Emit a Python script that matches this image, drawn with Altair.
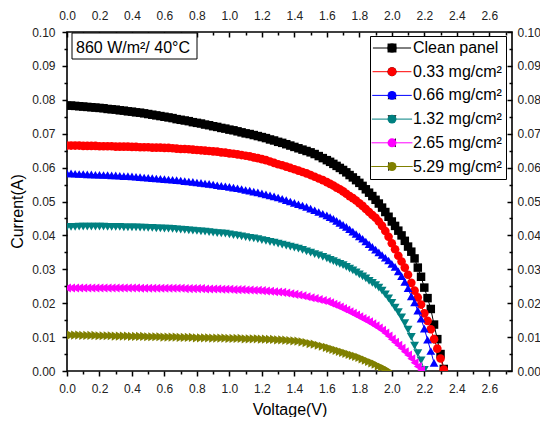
import altair as alt
import pandas as pd

FONT = "Liberation Sans, Arial, sans-serif"

series_names = ["Clean panel", "0.33 mg/cm²", "0.66 mg/cm²", "1.32 mg/cm²", "2.65 mg/cm²", "5.29 mg/cm²"]
series_colors = ["#000000", "#FF0000", "#0000FF", "#008080", "#FF00FF", "#808000"]
series_shapes = ["square", "circle", "triangle-up", "triangle-down", "triangle-left", "triangle-right"]
series_sizes = [72, 85, 110, 110, 110, 110]

voltage = [0.000, 0.025, 0.050, 0.075, 0.100, 0.125, 0.150, 0.175,
           0.200, 0.225, 0.250, 0.275, 0.300, 0.325, 0.350, 0.375,
           0.400, 0.425, 0.450, 0.475, 0.500, 0.525, 0.550, 0.575,
           0.600, 0.625, 0.650, 0.675, 0.700, 0.725, 0.750, 0.775,
           0.800, 0.825, 0.850, 0.875, 0.900, 0.925, 0.950, 0.975,
           1.000, 1.025, 1.050, 1.075, 1.100, 1.125, 1.150, 1.175,
           1.200, 1.225, 1.250, 1.275, 1.300, 1.325, 1.350, 1.375,
           1.400, 1.425, 1.450, 1.475, 1.500, 1.525, 1.550, 1.575,
           1.60, 1.62, 1.64, 1.66, 1.68, 1.70, 1.72, 1.74, 1.76, 1.78,
           1.80, 1.82, 1.84, 1.86, 1.88, 1.90, 1.92, 1.94, 1.96, 1.98,
           2.00, 2.02, 2.04, 2.06, 2.08, 2.10, 2.12, 2.14, 2.16, 2.18,
           2.20, 2.22, 2.24, 2.26, 2.28, 2.30, 2.32]

current_clean = [0.0783, 0.0783, 0.0782, 0.0781, 0.0780, 0.0779, 0.0778, 0.0777,
                 0.0776, 0.0775, 0.0773, 0.0772, 0.0771, 0.0769, 0.0768, 0.0766,
                 0.0765, 0.0763, 0.0762, 0.0760, 0.0758, 0.0756, 0.0754, 0.0752,
                 0.0750, 0.0748, 0.0746, 0.0743, 0.0741, 0.0739, 0.0737, 0.0734,
                 0.0732, 0.0730, 0.0727, 0.0725, 0.0722, 0.0720, 0.0717, 0.0715,
                 0.0712, 0.0710, 0.0707, 0.0704, 0.0701, 0.0699, 0.0696, 0.0693,
                 0.0690, 0.0687, 0.0683, 0.0680, 0.0676, 0.0673, 0.0669, 0.0665,
                 0.0661, 0.0657, 0.0653, 0.0649, 0.0645, 0.0640, 0.0634, 0.0628,
                 0.0622, 0.0617, 0.0611, 0.0605, 0.0599, 0.0593, 0.0586, 0.0578, 0.0571, 0.0563,
                 0.0555, 0.0546, 0.0536, 0.0526, 0.0516, 0.0505, 0.0494, 0.0482, 0.0469, 0.0455,
                 0.0441, 0.0428, 0.0414, 0.0400, 0.0384, 0.0367, 0.0352, 0.0332, 0.0305, 0.0278,
                 0.0246, 0.0215, 0.0183, 0.0137, 0.0094, 0.0050, 0.0006]
current_033 = [0.0665, 0.0665, 0.0665, 0.0665, 0.0664, 0.0664, 0.0664, 0.0664,
               0.0663, 0.0663, 0.0663, 0.0663, 0.0662, 0.0662, 0.0662, 0.0662,
               0.0661, 0.0661, 0.0660, 0.0660, 0.0660, 0.0659, 0.0659, 0.0659,
               0.0658, 0.0658, 0.0657, 0.0656, 0.0655, 0.0655, 0.0654, 0.0653,
               0.0652, 0.0651, 0.0650, 0.0649, 0.0648, 0.0647, 0.0645, 0.0644,
               0.0642, 0.0641, 0.0639, 0.0637, 0.0635, 0.0633, 0.0630, 0.0628,
               0.0625, 0.0622, 0.0618, 0.0614, 0.0610, 0.0607, 0.0603, 0.0599,
               0.0595, 0.0591, 0.0587, 0.0583, 0.0578, 0.0573, 0.0568, 0.0563,
               0.0557, 0.0552, 0.0547, 0.0541, 0.0536, 0.0530, 0.0523, 0.0516, 0.0510, 0.0503,
               0.0495, 0.0487, 0.0478, 0.0469, 0.0460, 0.0452, 0.0441, 0.0428, 0.0413, 0.0396,
               0.0377, 0.0359, 0.0340, 0.0323, 0.0305, 0.0284, 0.0260, 0.0237, 0.0217, 0.0196,
               0.0170, 0.0148, 0.0123, 0.0094, 0.0066, 0.0037, 0.0004]
current_066 = [0.0583, 0.0583, 0.0582, 0.0581, 0.0581, 0.0580, 0.0580, 0.0579,
               0.0579, 0.0578, 0.0578, 0.0577, 0.0577, 0.0576, 0.0575, 0.0575,
               0.0574, 0.0573, 0.0572, 0.0571, 0.0570, 0.0569, 0.0568, 0.0567,
               0.0566, 0.0565, 0.0564, 0.0563, 0.0562, 0.0560, 0.0559, 0.0558,
               0.0556, 0.0555, 0.0553, 0.0552, 0.0550, 0.0548, 0.0546, 0.0545,
               0.0543, 0.0541, 0.0539, 0.0537, 0.0534, 0.0532, 0.0529, 0.0527,
               0.0524, 0.0521, 0.0518, 0.0515, 0.0512, 0.0508, 0.0504, 0.0500,
               0.0496, 0.0492, 0.0488, 0.0484, 0.0479, 0.0474, 0.0469, 0.0464,
               0.0459, 0.0454, 0.0449, 0.0443, 0.0437, 0.0431, 0.0425, 0.0418, 0.0411, 0.0404,
               0.0397, 0.0390, 0.0382, 0.0374, 0.0366, 0.0358, 0.0350, 0.0342, 0.0334, 0.0326,
               0.0316, 0.0307, 0.0294, 0.0280, 0.0263, 0.0244, 0.0220, 0.0202, 0.0178, 0.0154,
               0.0125, 0.0092, 0.0059, 0.0024]
current_132 = [0.0425, 0.0425, 0.0425, 0.0426, 0.0426, 0.0426, 0.0426, 0.0426,
               0.0426, 0.0426, 0.0425, 0.0425, 0.0425, 0.0425, 0.0424, 0.0424,
               0.0424, 0.0424, 0.0423, 0.0423, 0.0422, 0.0422, 0.0421, 0.0421,
               0.0420, 0.0420, 0.0419, 0.0418, 0.0417, 0.0416, 0.0415, 0.0414,
               0.0413, 0.0412, 0.0411, 0.0410, 0.0408, 0.0407, 0.0406, 0.0405,
               0.0403, 0.0401, 0.0399, 0.0397, 0.0395, 0.0393, 0.0391, 0.0389,
               0.0386, 0.0384, 0.0381, 0.0379, 0.0376, 0.0373, 0.0370, 0.0367,
               0.0364, 0.0361, 0.0357, 0.0353, 0.0349, 0.0345, 0.0341, 0.0337,
               0.0332, 0.0328, 0.0324, 0.0320, 0.0316, 0.0312, 0.0307, 0.0302, 0.0297, 0.0291,
               0.0285, 0.0279, 0.0273, 0.0266, 0.0260, 0.0253, 0.0246, 0.0237, 0.0226, 0.0214,
               0.0201, 0.0187, 0.0174, 0.0158, 0.0141, 0.0122, 0.0101, 0.0075, 0.0053, 0.0031,
               0.0003]
current_265 = [0.0245, 0.0245, 0.0245, 0.0245, 0.0245, 0.0245, 0.0245, 0.0245,
               0.0245, 0.0245, 0.0245, 0.0245, 0.0245, 0.0245, 0.0245, 0.0245,
               0.0245, 0.0245, 0.0244, 0.0244, 0.0244, 0.0244, 0.0244, 0.0244,
               0.0244, 0.0244, 0.0244, 0.0244, 0.0244, 0.0243, 0.0243, 0.0243,
               0.0243, 0.0243, 0.0242, 0.0242, 0.0242, 0.0242, 0.0241, 0.0241,
               0.0241, 0.0240, 0.0240, 0.0240, 0.0239, 0.0239, 0.0238, 0.0238,
               0.0237, 0.0236, 0.0235, 0.0234, 0.0233, 0.0232, 0.0230, 0.0228,
               0.0226, 0.0224, 0.0222, 0.0219, 0.0216, 0.0214, 0.0211, 0.0208,
               0.0205, 0.0201, 0.0197, 0.0193, 0.0189, 0.0184, 0.0180, 0.0175, 0.0170, 0.0165,
               0.0160, 0.0155, 0.0150, 0.0145, 0.0139, 0.0133, 0.0127, 0.0120, 0.0112, 0.0103,
               0.0094, 0.0085, 0.0076, 0.0067, 0.0057, 0.0047, 0.0036, 0.0024, 0.0013, 0.0003]
current_529 = [0.0106, 0.0106, 0.0106, 0.0106, 0.0105, 0.0105, 0.0105, 0.0105,
               0.0104, 0.0104, 0.0104, 0.0104, 0.0103, 0.0103, 0.0103, 0.0103,
               0.0102, 0.0102, 0.0102, 0.0102, 0.0101, 0.0101, 0.0101, 0.0101,
               0.0100, 0.0100, 0.0100, 0.0100, 0.0099, 0.0099, 0.0099, 0.0099,
               0.0098, 0.0098, 0.0098, 0.0098, 0.0097, 0.0097, 0.0097, 0.0097,
               0.0096, 0.0096, 0.0096, 0.0096, 0.0095, 0.0095, 0.0095, 0.0095,
               0.0094, 0.0094, 0.0093, 0.0093, 0.0092, 0.0092, 0.0091, 0.0090,
               0.0089, 0.0088, 0.0086, 0.0084, 0.0081, 0.0079, 0.0076, 0.0073,
               0.0070, 0.0067, 0.0064, 0.0061, 0.0058, 0.0055, 0.0052, 0.0049, 0.0046, 0.0043,
               0.0040, 0.0036, 0.0032, 0.0028, 0.0024, 0.0020, 0.0015, 0.0011, 0.0006, 0.0001]

currents = [current_clean, current_033, current_066, current_132, current_265, current_529]

annotation = "860 W/m²/ 40°C"
x_major = [0.0, 0.2, 0.4, 0.6, 0.8, 1.0, 1.2, 1.4, 1.6, 1.8, 2.0, 2.2, 2.4, 2.6]
x_minor = [0.1, 0.3, 0.5, 0.7, 0.9, 1.1, 1.3, 1.5, 1.7, 1.9, 2.1, 2.3, 2.5, 2.7]
y_major = [0.00, 0.01, 0.02, 0.03, 0.04, 0.05, 0.06, 0.07, 0.08, 0.09, 0.10]
y_minor = [0.005, 0.015, 0.025, 0.035, 0.045, 0.055, 0.065, 0.075, 0.085, 0.095]

rows = []
for name, cur in zip(series_names, currents):
    for v, i in zip(voltage, cur):
        rows.append({"series": name, "V": v, "I": i})
df = pd.DataFrame(rows)

W, H = 445, 339
xs = alt.Scale(domain=[0, 2.74], nice=False, zero=False)
ys = alt.Scale(domain=[0, 0.1], nice=False)

common = dict(grid=False, domain=False, tickColor="black", tickWidth=1.5,
              labelFont=FONT, labelFontSize=12, labelColor="#222222", labelFlush=False,
              labelOverlap=False, labelBound=False)

# legend A: coloured line segments with visible labels (box)
legA = alt.Legend(title=None, orient="none", legendX=303, legendY=4, padding=4,
                  symbolType="M-4.5,0H4.5", symbolSize=64, symbolStrokeWidth=1,
                  symbolOffset=10, labelOffset=13,
                  labelFont=FONT, labelFontSize=16, labelColor="black",
                  labelLimit=300, rowPadding=7.7, strokeColor="black", fillColor="white")
# legend B: the markers, drawn over the middle of the line segments
legB = alt.Legend(title=None, orient="none", legendX=303, legendY=4, padding=4,
                  symbolSize=80, symbolStrokeWidth=0, symbolOffset=10, labelOffset=13,
                  labelFont=FONT, labelFontSize=16, labelOpacity=0,
                  labelLimit=300, rowPadding=7.7)

lines = alt.Chart(df).mark_line(strokeWidth=1, clip=True).encode(
    x=alt.X("V:Q", scale=xs, axis=alt.Axis(
        orient="bottom", values=x_major, format=".1f", tickSize=5, labelPadding=7,
        title="Voltage(V)", titleFont=FONT, titleFontSize=16, titleFontWeight="normal",
        titleColor="black", titleY=43, titleBaseline="alphabetic", **common)),
    y=alt.Y("I:Q", scale=ys, axis=alt.Axis(
        orient="left", values=y_major, format=".2f", tickSize=5, labelPadding=7,
        title="Current(A)", titleFont=FONT, titleFontSize=16, titleFontWeight="normal",
        titleColor="black", titleAngle=270, titleX=-45, titleY=179,
        titleBaseline="alphabetic", titleAlign="center", **common)),
    stroke=alt.Stroke("series:N", scale=alt.Scale(domain=series_names, range=series_colors), legend=legA),
)

points = alt.Chart(df).mark_point(filled=True, opacity=1, clip=True).encode(
    x=alt.X("V:Q", scale=xs, axis=alt.Axis(orient="bottom", values=x_minor, labels=False,
                                           tickSize=3, title=None, **common)),
    y=alt.Y("I:Q", scale=ys, axis=alt.Axis(orient="left", values=y_minor, labels=False,
                                           tickSize=3, title=None, **common)),
    fill=alt.Fill("series:N", sort=series_names, scale=alt.Scale(range=series_colors), legend=legB),
    shape=alt.Shape("series:N", sort=series_names, scale=alt.Scale(range=series_shapes), legend=legB),
    size=alt.Size("series:N", scale=alt.Scale(domain=series_names, range=series_sizes), legend=None),
)

top_right_labels = alt.Chart(df).mark_point(opacity=0).encode(
    x=alt.X("V:Q", scale=xs, axis=alt.Axis(orient="top", values=x_major, format=".1f", ticks=False,
                                           tickSize=0, labelPadding=10, title=None, **common)),
    y=alt.Y("I:Q", scale=ys, axis=alt.Axis(orient="right", values=y_major, format=".2f", ticks=False,
                                           tickSize=0, labelPadding=5, title=None, **common)),
)

inner_major = alt.Chart(df).mark_point(opacity=0).encode(
    x=alt.X("V:Q", scale=xs, axis=alt.Axis(orient="bottom", offset=-H, values=x_major, labels=False,
                                           tickSize=5, title=None, **common)),
    y=alt.Y("I:Q", scale=ys, axis=alt.Axis(orient="left", offset=-W, values=y_major, labels=False,
                                           tickSize=5, title=None, **common)),
)

inner_minor = alt.Chart(df).mark_point(opacity=0).encode(
    x=alt.X("V:Q", scale=xs, axis=alt.Axis(orient="bottom", offset=-H, values=x_minor, labels=False,
                                           tickSize=3, title=None, **common)),
    y=alt.Y("I:Q", scale=ys, axis=alt.Axis(orient="left", offset=-W, values=y_minor, labels=False,
                                           tickSize=3, title=None, **common)),
)

ann_df = pd.DataFrame({"label": [annotation]})
box = alt.Chart(ann_df).mark_rect(fill="white", stroke="black", strokeWidth=1).encode(
    x=alt.value(5), x2=alt.value(130), y=alt.value(1), y2=alt.value(27))
txt = alt.Chart(ann_df).mark_text(align="left", baseline="alphabetic", fontSize=16,
                                  font=FONT, color="black").encode(
    x=alt.value(9), y=alt.value(21), text="label:N")

chart = alt.layer(lines, points, top_right_labels, inner_major, inner_minor, box, txt).resolve_axis(
    x="independent", y="independent"
).properties(
    width=W, height=H,
    padding={"left": 59, "top": 24, "right": 28, "bottom": 46},
    autosize=alt.AutoSizeParams(type="none"),
).configure(font=FONT).configure_view(stroke="black", strokeWidth=1.6)

chart.save("out.html", embed_options={"renderer": "svg", "actions": False})
